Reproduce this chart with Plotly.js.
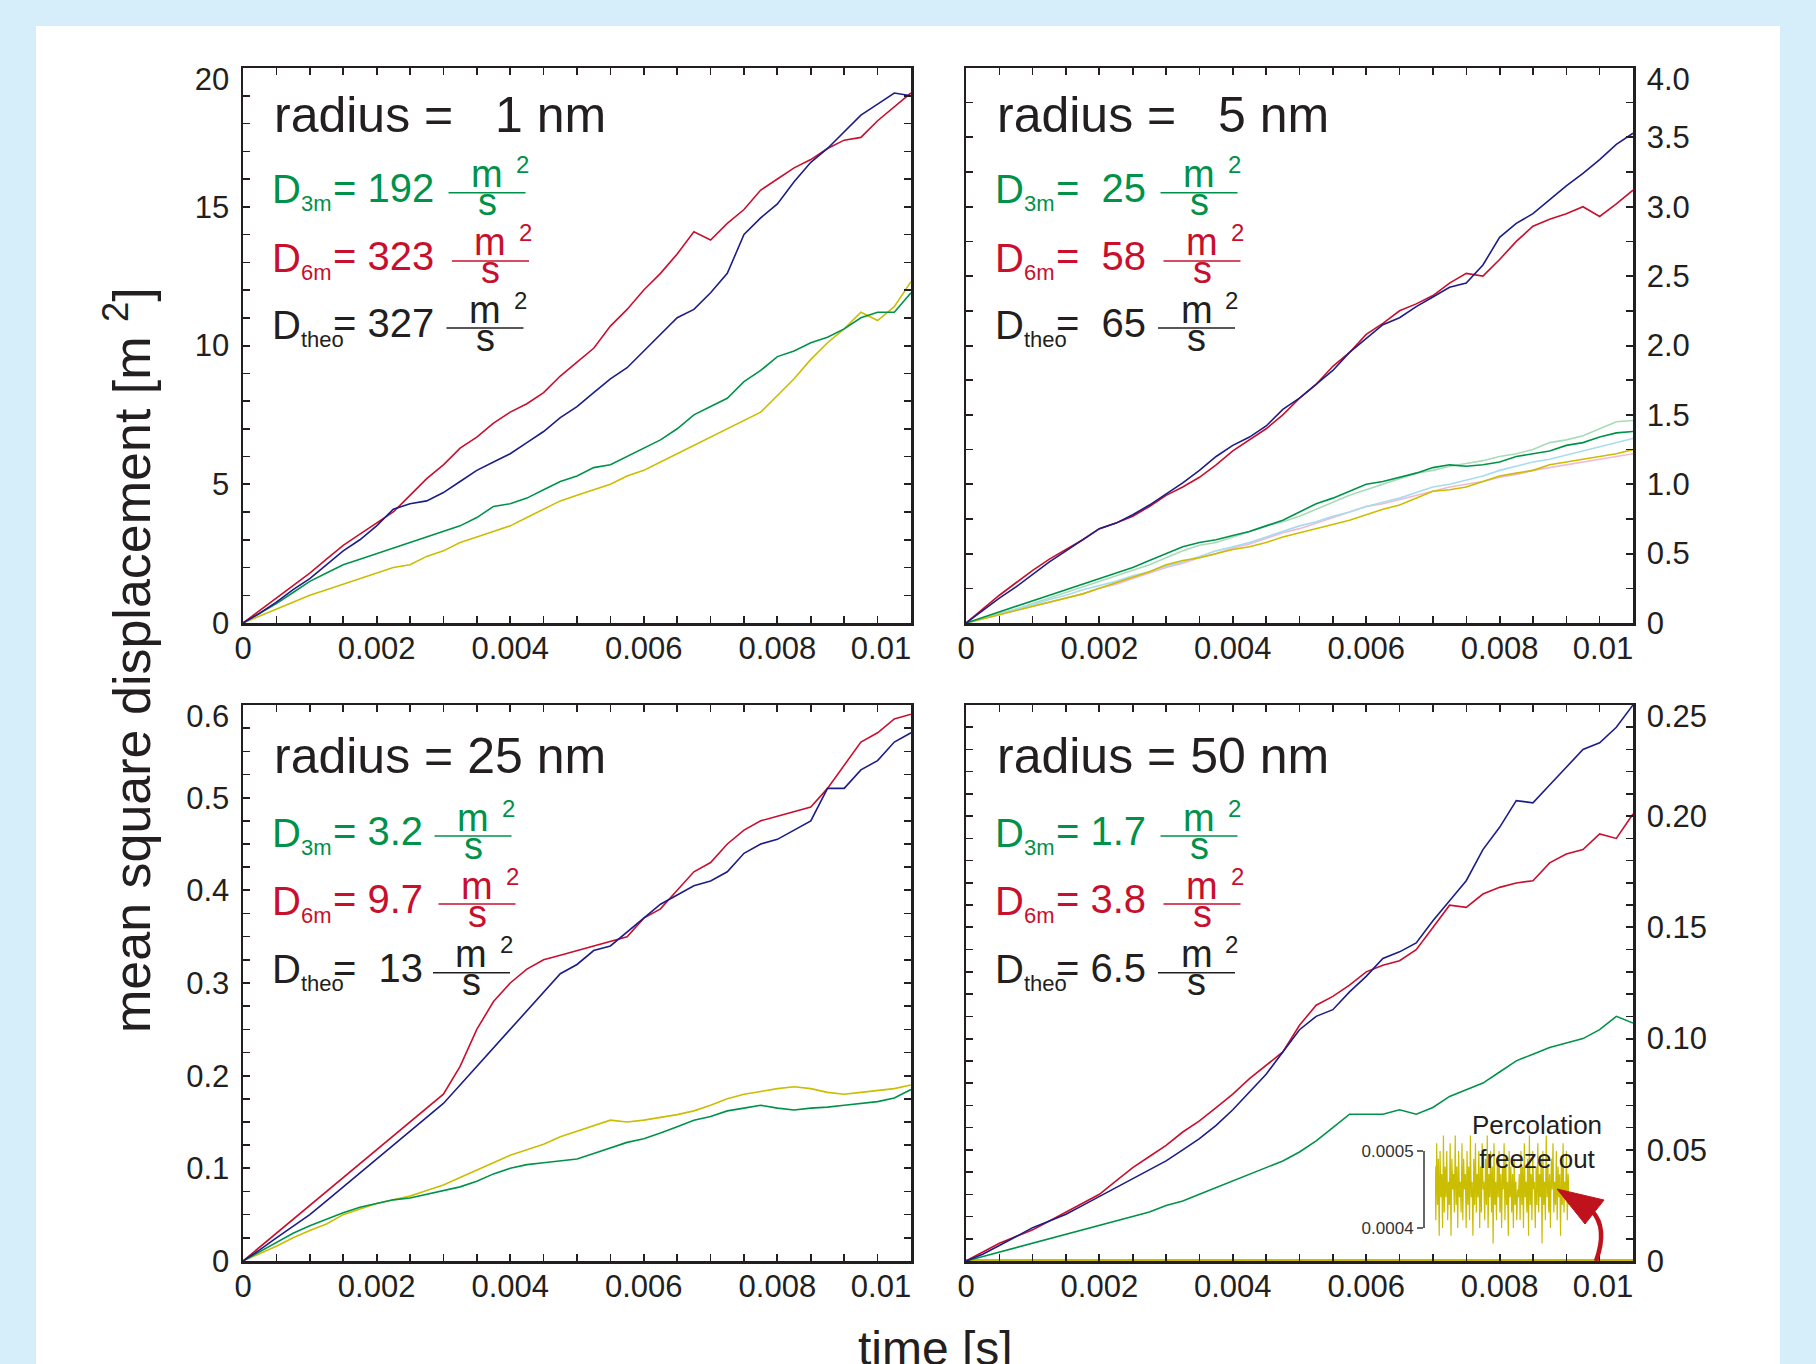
<!DOCTYPE html>
<html><head><meta charset="utf-8">
<script src="https://cdn.plot.ly/plotly-3.0.1.min.js"></script>
<style>html,body{margin:0;padding:0;background:#d6eef9;overflow:hidden}#chart{width:1816px;height:1364px}</style>
</head><body><div id="chart"></div>
<script>
// ---------------- DATA ----------------
const time = [0, 0.00025, 0.0005, 0.00075, 0.001, 0.00125, 0.0015, 0.00175, 0.002, 0.00225,
  0.0025, 0.00275, 0.003, 0.00325, 0.0035, 0.00375, 0.004, 0.00425, 0.0045, 0.00475,
  0.005, 0.00525, 0.0055, 0.00575, 0.006, 0.00625, 0.0065, 0.00675, 0.007, 0.00725,
  0.0075, 0.00775, 0.008, 0.00825, 0.0085, 0.00875, 0.009, 0.00925, 0.0095, 0.00975, 0.01];

// radius = 1 nm
const r1_red = [0, 0.45, 0.9, 1.35, 1.8, 2.3, 2.8, 3.2, 3.6, 4.0, 4.6, 5.2, 5.7, 6.3, 6.7, 7.2, 7.6, 7.9, 8.3, 8.9,
  9.4, 9.9, 10.7, 11.3, 12.0, 12.6, 13.3, 14.1, 13.8, 14.4, 14.9, 15.6, 16.0, 16.4, 16.7, 17.1, 17.4, 17.5, 18.1, 18.6, 19.1];
const r1_blue = [0, 0.35, 0.75, 1.2, 1.6, 2.1, 2.6, 3.0, 3.5, 4.1, 4.3, 4.4, 4.7, 5.1, 5.5, 5.8, 6.1, 6.5, 6.9, 7.4,
  7.8, 8.3, 8.8, 9.2, 9.8, 10.4, 11.0, 11.3, 11.9, 12.6, 14.0, 14.6, 15.1, 15.9, 16.6, 17.1, 17.7, 18.3, 18.7, 19.1, 19.0];
const r1_green = [0, 0.35, 0.7, 1.1, 1.5, 1.8, 2.1, 2.3, 2.5, 2.7, 2.9, 3.1, 3.3, 3.5, 3.8, 4.2, 4.3, 4.5, 4.8, 5.1,
  5.3, 5.6, 5.7, 6.0, 6.3, 6.6, 7.0, 7.5, 7.8, 8.1, 8.7, 9.1, 9.6, 9.8, 10.1, 10.3, 10.6, 11.0, 11.2, 11.2, 11.9];
const r1_yellow = [0, 0.25, 0.5, 0.75, 1.0, 1.2, 1.4, 1.6, 1.8, 2.0, 2.1, 2.4, 2.6, 2.9, 3.1, 3.3, 3.5, 3.8, 4.1, 4.4,
  4.6, 4.8, 5.0, 5.3, 5.5, 5.8, 6.1, 6.4, 6.7, 7.0, 7.3, 7.6, 8.2, 8.8, 9.5, 10.1, 10.6, 11.2, 10.9, 11.4, 12.3];

// radius = 5 nm
const r5_red = [0, 0.1, 0.2, 0.29, 0.38, 0.46, 0.53, 0.6, 0.68, 0.72, 0.77, 0.84, 0.92, 0.98, 1.05, 1.14, 1.24, 1.32, 1.4, 1.5,
  1.62, 1.72, 1.85, 1.95, 2.08, 2.16, 2.25, 2.3, 2.36, 2.45, 2.52, 2.5, 2.62, 2.75, 2.86, 2.91, 2.95, 3.0, 2.93, 3.02, 3.12];
const r5_blue = [0, 0.09, 0.18, 0.26, 0.35, 0.44, 0.52, 0.6, 0.68, 0.72, 0.78, 0.85, 0.93, 1.01, 1.1, 1.2, 1.28, 1.34, 1.42, 1.54,
  1.62, 1.72, 1.82, 1.95, 2.05, 2.15, 2.2, 2.28, 2.35, 2.42, 2.45, 2.58, 2.78, 2.88, 2.95, 3.05, 3.15, 3.24, 3.34, 3.45, 3.53];
const r5_green = [0, 0.04, 0.08, 0.12, 0.16, 0.2, 0.24, 0.28, 0.32, 0.36, 0.4, 0.45, 0.5, 0.55, 0.58, 0.6, 0.63, 0.66, 0.7, 0.74,
  0.8, 0.86, 0.9, 0.95, 1.0, 1.02, 1.05, 1.08, 1.12, 1.14, 1.13, 1.14, 1.16, 1.2, 1.22, 1.24, 1.28, 1.3, 1.34, 1.37, 1.38];
const r5_lightgreen = [0, 0.03, 0.07, 0.1, 0.14, 0.18, 0.22, 0.26, 0.3, 0.34, 0.38, 0.42, 0.47, 0.52, 0.56, 0.58, 0.62, 0.66, 0.7, 0.73,
  0.77, 0.82, 0.87, 0.92, 0.96, 1.0, 1.04, 1.08, 1.1, 1.13, 1.15, 1.17, 1.2, 1.22, 1.25, 1.3, 1.32, 1.35, 1.4, 1.45, 1.46];
const r5_pink = [0, 0.03, 0.06, 0.09, 0.12, 0.15, 0.18, 0.21, 0.25, 0.28, 0.32, 0.36, 0.4, 0.43, 0.47, 0.5, 0.54, 0.57, 0.61, 0.65,
  0.68, 0.72, 0.76, 0.8, 0.84, 0.86, 0.89, 0.92, 0.95, 0.98, 1.0, 1.02, 1.05, 1.07, 1.1, 1.12, 1.14, 1.16, 1.18, 1.2, 1.22];
const r5_lightblue = [0, 0.03, 0.06, 0.1, 0.13, 0.17, 0.2, 0.24, 0.27, 0.3, 0.34, 0.37, 0.41, 0.44, 0.48, 0.52, 0.55, 0.58, 0.62, 0.66,
  0.7, 0.73, 0.77, 0.8, 0.84, 0.87, 0.9, 0.94, 0.98, 1.0, 1.03, 1.06, 1.1, 1.13, 1.16, 1.18, 1.21, 1.24, 1.27, 1.3, 1.33];
const r5_yellow = [0, 0.03, 0.06, 0.09, 0.12, 0.15, 0.18, 0.21, 0.25, 0.29, 0.33, 0.37, 0.42, 0.45, 0.47, 0.5, 0.53, 0.55, 0.58, 0.62,
  0.65, 0.68, 0.71, 0.74, 0.78, 0.82, 0.85, 0.9, 0.95, 0.96, 0.98, 1.02, 1.06, 1.08, 1.1, 1.14, 1.16, 1.18, 1.2, 1.22, 1.25];

// radius = 25 nm
const r25_red = [0, 0.015, 0.03, 0.045, 0.06, 0.075, 0.09, 0.105, 0.12, 0.135, 0.15, 0.165, 0.18, 0.21, 0.25, 0.28, 0.3, 0.315, 0.325, 0.33,
  0.335, 0.34, 0.345, 0.35, 0.37, 0.38, 0.4, 0.42, 0.43, 0.45, 0.465, 0.475, 0.48, 0.485, 0.49, 0.51, 0.535, 0.56, 0.57, 0.585, 0.59];
const r25_blue = [0, 0.012, 0.025, 0.038, 0.05, 0.065, 0.08, 0.095, 0.11, 0.125, 0.14, 0.155, 0.17, 0.19, 0.21, 0.23, 0.25, 0.27, 0.29, 0.31,
  0.32, 0.335, 0.34, 0.355, 0.37, 0.385, 0.395, 0.405, 0.41, 0.42, 0.44, 0.45, 0.455, 0.465, 0.475, 0.51, 0.51, 0.53, 0.54, 0.56, 0.57];
const r25_green = [0, 0.01, 0.02, 0.03, 0.038, 0.045, 0.052, 0.058, 0.062, 0.066, 0.068, 0.072, 0.076, 0.08, 0.086, 0.094, 0.1, 0.104, 0.106, 0.108,
  0.11, 0.116, 0.122, 0.128, 0.132, 0.138, 0.145, 0.152, 0.156, 0.162, 0.165, 0.168, 0.165, 0.163, 0.165, 0.166, 0.168, 0.17, 0.172, 0.176, 0.185];
const r25_yellow = [0, 0.008, 0.016, 0.025, 0.033, 0.04, 0.05, 0.056, 0.062, 0.066, 0.07, 0.076, 0.082, 0.09, 0.098, 0.106, 0.114, 0.12, 0.126, 0.134,
  0.14, 0.146, 0.152, 0.15, 0.152, 0.155, 0.158, 0.162, 0.168, 0.175, 0.18, 0.183, 0.186, 0.188, 0.186, 0.182, 0.18, 0.182, 0.184, 0.186, 0.19];

// radius = 50 nm
const r50_red = [0, 0.004, 0.008, 0.011, 0.014, 0.018, 0.022, 0.026, 0.03, 0.036, 0.042, 0.047, 0.052, 0.058, 0.063, 0.069, 0.075, 0.082, 0.088, 0.094,
  0.106, 0.115, 0.119, 0.124, 0.13, 0.133, 0.135, 0.14, 0.15, 0.16, 0.159, 0.165, 0.168, 0.17, 0.171, 0.179, 0.183, 0.185, 0.192, 0.19, 0.201];
const r50_blue = [0, 0.003, 0.007, 0.011, 0.015, 0.018, 0.021, 0.025, 0.029, 0.033, 0.037, 0.041, 0.045, 0.05, 0.055, 0.061, 0.068, 0.076, 0.084, 0.094,
  0.104, 0.11, 0.113, 0.121, 0.128, 0.136, 0.139, 0.143, 0.153, 0.162, 0.171, 0.185, 0.195, 0.207, 0.206, 0.214, 0.222, 0.23, 0.233, 0.24, 0.25];
const r50_green = [0, 0.002, 0.004, 0.006, 0.008, 0.01, 0.012, 0.014, 0.016, 0.018, 0.02, 0.022, 0.025, 0.027, 0.03, 0.033, 0.036, 0.039, 0.042, 0.045,
  0.049, 0.054, 0.06, 0.066, 0.066, 0.066, 0.068, 0.066, 0.069, 0.074, 0.077, 0.08, 0.085, 0.09, 0.093, 0.096, 0.098, 0.1, 0.104, 0.11, 0.107];
const r50_yellow = [0.00045, 0.00043, 0.00047, 0.00044, 0.00046, 0.00042, 0.00048, 0.00045, 0.00044, 0.00046,
  0.00043, 0.00047, 0.00045, 0.00044, 0.00046, 0.00042, 0.00048, 0.00045, 0.00043, 0.00047,
  0.00044, 0.00046, 0.00045, 0.00043, 0.00047, 0.00044, 0.00046, 0.00042, 0.00048, 0.00045,
  0.00044, 0.00046, 0.00043, 0.00047, 0.00045, 0.00044, 0.00046, 0.00042, 0.00048, 0.00045, 0.00044];
// inset: percolation freeze-out (yellow, zoomed in)
const inset_yellow = [0.00048, 0.00041, 0.00051, 0.00043, 0.00049, 0.00039, 0.00050, 0.00044, 0.00047, 0.00040,
  0.00052, 0.00042, 0.00048, 0.00044, 0.00050, 0.00041, 0.00046, 0.00043, 0.00051, 0.00039,
  0.00049, 0.00045, 0.00047, 0.00042, 0.00052, 0.00043, 0.00048, 0.00040, 0.00050, 0.00044,
  0.00046, 0.00042, 0.00051, 0.00041, 0.00049, 0.00045, 0.00047, 0.00040, 0.00050, 0.00043,
  0.00048, 0.00041, 0.00052, 0.00044, 0.00046, 0.00039, 0.00049, 0.00043, 0.00051, 0.00042,
  0.00047, 0.00044, 0.00050, 0.00040, 0.00048, 0.00042, 0.00051, 0.00045, 0.00046, 0.00041,
  0.00049, 0.00043, 0.00052, 0.00040, 0.00047, 0.00044, 0.00050, 0.00042, 0.00048, 0.00038,
  0.00051, 0.00043, 0.00046, 0.00041, 0.00049, 0.00044, 0.00050, 0.00042, 0.00047, 0.00040,
  0.00048, 0.00045, 0.00051, 0.00041, 0.00049, 0.00043, 0.00046, 0.00039, 0.00050, 0.00044,
  0.00048, 0.00042, 0.00047, 0.00040, 0.00049, 0.00043, 0.00046, 0.00041, 0.00045, 0.00044,
  0.00047, 0.00041, 0.00050, 0.00043, 0.00048, 0.00040, 0.00051, 0.00044, 0.00046, 0.00042,
  0.00049, 0.00039, 0.00052, 0.00043, 0.00047, 0.00041, 0.00050, 0.00045, 0.00046, 0.00040,
  0.00048, 0.00043, 0.00051, 0.00042, 0.00047, 0.00044, 0.00049, 0.00038, 0.00050, 0.00043,
  0.00046, 0.00041, 0.00052, 0.00044, 0.00048, 0.00042, 0.00047, 0.00040, 0.00049, 0.00045,
  0.00051, 0.00042, 0.00046, 0.00043, 0.00050, 0.00041, 0.00048, 0.00044, 0.00047, 0.00039,
  0.00049, 0.00043, 0.00051, 0.00042, 0.00046, 0.00044, 0.00050, 0.00041, 0.00047, 0.00043];

// tick labels
const xTickVals = [0, 0.002, 0.004, 0.006, 0.008], xTickText = ['0', '0.002', '0.004', '0.006', '0.008'], xEnd = [0.01, '0.01'];
const y1TickVals = [0, 5, 10, 15], y1TickText = ['0', '5', '10', '15'], y1Top = [20, '20'];
const y2TickVals = [0, 0.5, 1, 1.5, 2, 2.5, 3, 3.5], y2TickText = ['0', '0.5', '1.0', '1.5', '2.0', '2.5', '3.0', '3.5'], y2Top = [4, '4.0'];
const y3TickVals = [0, 0.1, 0.2, 0.3, 0.4, 0.5], y3TickText = ['0', '0.1', '0.2', '0.3', '0.4', '0.5'], y3Top = [0.6, '0.6'];
const y4TickVals = [0, 0.05, 0.1, 0.15, 0.2], y4TickText = ['0', '0.05', '0.10', '0.15', '0.20'], y4Top = [0.25, '0.25'];
const insetTickVals = [0.0004, 0.0005], insetTickText = ['0.0004', '0.0005'];

// panel texts
const panelTitles = ['radius =\u00A0\u00A0\u00A01 nm', 'radius =\u00A0\u00A0\u00A05 nm', 'radius = 25 nm', 'radius = 50 nm'];
const rowSubs = ['3m', '6m', 'theo'];
const dValues = [
  ['= 192', '= 323', '= 327'],
  ['=\u00A0\u00A025', '=\u00A0\u00A058', '=\u00A0\u00A065'],
  ['= 3.2', '= 9.7', '=\u00A0\u00A013'],
  ['= 1.7', '= 3.8', '= 6.5']
];

// ---------------- STYLE / LAYOUT ----------------
const W = 1816, H = 1364;
const FONT = 'Liberation Sans, Arial, Helvetica, sans-serif';
const INK = '#231f20';
const GREEN = '#00924a', RED = '#c8102e', BLUE = '#1d1d88', YELLOW = '#cbbd00';
const LGREEN = '#a8dbb8', PINK = '#f5b8d1', LBLUE = '#a6dcf0';
const rowColors = [GREEN, RED, INK];
const TICKSIZE = 31;

const PX = x => x / W, PY = y => 1 - y / H;
const frames = [
  {L: 243, R: 911, T: 68, B: 623},
  {L: 966, R: 1633, T: 68, B: 623},
  {L: 243, R: 911, T: 705, B: 1261},
  {L: 966, R: 1633, T: 705, B: 1261}
];

const common = {
  showline: true, linecolor: INK, linewidth: 2.5,
  ticks: 'inside', ticklen: 7, tickwidth: 2, tickcolor: INK,
  showgrid: false, zeroline: false, tickmode: 'array',
  tickfont: {family: FONT, size: TICKSIZE, color: INK}, autorange: false
};
const minorBase = {ticks: 'inside', ticklen: 4, tickwidth: 1.5, tickcolor: INK, showgrid: false, tick0: 0};

const layout = {
  width: W, height: H, margin: {l: 0, r: 0, t: 0, b: 0},
  paper_bgcolor: '#d6eef9', plot_bgcolor: 'rgba(0,0,0,0)', showlegend: false,
  font: {family: FONT, color: INK},
  annotations: [], shapes: []
};

const yCfg = [
  {range: [0, 20], vals: y1TickVals, text: y1TickText, top: y1Top, minor: 1, side: 'left'},
  {range: [0, 4], vals: y2TickVals, text: y2TickText, top: y2Top, minor: 0.25, side: 'right'},
  {range: [0, 0.6], vals: y3TickVals, text: y3TickText, top: y3Top, minor: 0.025, side: 'left'},
  {range: [0, 0.25], vals: y4TickVals, text: y4TickText, top: y4Top, minor: 0.01, side: 'right'}
];

const traces = [];
const XSTAND = -4, YSTAND = 5;
frames.forEach((f, i) => {
  const n = i + 1;
  const xk = n === 1 ? 'xaxis' : 'xaxis' + n;
  const yk = n === 1 ? 'yaxis' : 'yaxis' + n;
  const xr = n === 1 ? 'x' : 'x' + n, yr = n === 1 ? 'y' : 'y' + n;
  const c = yCfg[i];
  layout[xk] = Object.assign({}, common, {
    domain: [PX(f.L), PX(f.R)], range: [0, 0.01], anchor: yr, mirror: 'allticks',
    tickvals: xTickVals, ticktext: xTickText, ticklabelstandoff: XSTAND,
    minor: Object.assign({}, minorBase, {dtick: 0.0005})
  });
  layout[yk] = Object.assign({}, common, {
    domain: [PY(f.B), PY(f.T)], range: c.range, anchor: xr, side: c.side, mirror: 'allticks',
    tickvals: c.vals, ticktext: c.text, ticklabelstandoff: YSTAND,
    minor: Object.assign({}, minorBase, {dtick: c.minor})
  });
  // overlay axes carrying the end labels, nudged inside the frame like the original
  const oy = 'yaxis' + (n + 4), oyr = 'y' + (n + 4);
  layout[oy] = Object.assign({}, common, {
    overlaying: yr, anchor: xr, side: c.side, range: c.range,
    tickvals: [c.top[0]], ticktext: [c.top[1]], ticklabelshift: 11, ticklabelstandoff: YSTAND
  });
  traces.push({x: [null], y: [null], xaxis: xr, yaxis: oyr, mode: 'lines', hoverinfo: 'skip', showlegend: false});
  const ox = 'xaxis' + (n + 5), oxr = 'x' + (n + 5);
  layout[ox] = Object.assign({}, common, {
    overlaying: xr, anchor: yr, side: 'bottom', range: [0, 0.01],
    tickvals: [xEnd[0]], ticktext: [xEnd[1]], ticklabelshift: -30, ticklabelstandoff: XSTAND
  });
  traces.push({x: [null], y: [null], xaxis: oxr, yaxis: yr, mode: 'lines', hoverinfo: 'skip', showlegend: false});
});

function line(y, n, color, w) {
  const xr = n === 1 ? 'x' : 'x' + n, yr = n === 1 ? 'y' : 'y' + n;
  return {x: time, y: y, xaxis: xr, yaxis: yr, mode: 'lines', line: {color: color, width: w || 1.6}, hoverinfo: 'skip'};
}
traces.push(
  line(r1_yellow, 1, YELLOW), line(r1_green, 1, GREEN), line(r1_red, 1, RED), line(r1_blue, 1, BLUE),
  line(r5_lightgreen, 2, LGREEN), line(r5_pink, 2, PINK), line(r5_lightblue, 2, LBLUE),
  line(r5_yellow, 2, YELLOW), line(r5_green, 2, GREEN), line(r5_red, 2, RED), line(r5_blue, 2, BLUE),
  line(r25_yellow, 3, YELLOW), line(r25_green, 3, GREEN), line(r25_red, 3, RED), line(r25_blue, 3, BLUE),
  line(r50_yellow, 4, YELLOW, 2), line(r50_green, 4, GREEN), line(r50_red, 4, RED), line(r50_blue, 4, BLUE)
);

// inset axes
const insetYLo = 0.0004 - 34 / 770000, insetYHi = 0.0005 + 19 / 770000;
layout.xaxis5 = {domain: [PX(1435), PX(1569)], range: [0, inset_yellow.length - 1], anchor: 'y10', visible: false, autorange: false};
layout.yaxis10 = {domain: [PY(1262), PY(1132)], range: [insetYLo, insetYHi], anchor: 'x5', visible: false, autorange: false};
layout.yaxis9 = {
  domain: [PY(1228), PY(1151)], range: [0.0004, 0.0005], anchor: 'free', position: PX(1423), side: 'left',
  autorange: false, showline: true, linecolor: '#666', linewidth: 1.5, ticks: 'outside', ticklen: 6, tickwidth: 1.5,
  tickcolor: '#666', tickmode: 'array', tickvals: insetTickVals, ticktext: insetTickText,
  tickfont: {family: FONT, size: 17, color: '#333'}, showgrid: false, zeroline: false
};
traces.push({x: [null], y: [null], xaxis: 'x5', yaxis: 'y9', mode: 'lines', hoverinfo: 'skip', showlegend: false});
traces.push({y: inset_yellow, xaxis: 'x5', yaxis: 'y10', mode: 'lines', line: {color: YELLOW, width: 1.2}, hoverinfo: 'skip'});

// white sheet
layout.shapes.push({type: 'rect', xref: 'paper', yref: 'paper', x0: PX(36), x1: PX(1780), y0: 0, y1: PY(26),
  fillcolor: '#ffffff', line: {width: 0}, layer: 'below'});

// panel annotations
const titleBase = [64, 64, 69, 69];
const rowBase = [[133.7, 202, 269], [133.7, 202, 269], [140, 208, 276.7], [140, 208, 276.7]];
const fracCx = [[244, 247.5, 242], [233, 236, 230.5], [230, 234, 228.5], [233, 236, 230.5]];
function ann(text, x, y, size, color, xanchor, extra) {
  return Object.assign({text: text, x: PX(x), y: PY(y), xref: 'paper', yref: 'paper', showarrow: false,
    xanchor: xanchor || 'center', yanchor: 'middle', font: {family: FONT, size: size, color: color}}, extra || {});
}
frames.forEach((f, i) => {
  layout.annotations.push(ann(panelTitles[i], f.L + 29, f.T + titleBase[i] - 17.5, 50, INK, 'left'));
  for (let r = 0; r < 3; r++) {
    const base = f.T + rowBase[i][r];
    const col = rowColors[r];
    layout.annotations.push(ann('D<sub><span style="font-size:22px">' + rowSubs[r] + '</span></sub>',
      f.L + 27, base - 10, 40, col, 'left'));
    layout.annotations.push(ann(dValues[i][r], f.L + 88, base - 14, 40, col, 'left'));
    const cx = f.L + fracCx[i][r];
    layout.annotations.push(ann('m', cx, base - 14 - 13.5, 38, col));
    layout.annotations.push(ann('s', cx, base + 14 - 13.5, 38, col));
    layout.annotations.push(ann('2', cx + 35, base - 29 - 8, 24, col));
    layout.shapes.push({type: 'line', xref: 'paper', yref: 'paper', x0: PX(cx - 38.5), x1: PX(cx + 38.5),
      y0: PY(base - 9), y1: PY(base - 9), line: {color: col, width: 1.5}});
  }
});

// axis titles
layout.annotations.push(ann('mean square displacement [m\u00A0<sup>2</sup>]', 128, 660, 52, INK, 'center', {textangle: -90}));
layout.annotations.push(ann('time [s]', 935, 1348, 48, INK, 'center'));

// inset label and arrow
layout.annotations.push(ann('Percolation<br>freeze out', 1537, 1142, 26, INK, 'center'));
layout.shapes.push({type: 'path', xref: 'paper', yref: 'paper',
  path: 'M ' + PX(1596) + ',' + PY(1261) + ' Q ' + PX(1608) + ',' + PY(1228) + ' ' + PX(1592) + ',' + PY(1211),
  line: {color: '#c0121d', width: 4.5}});
layout.shapes.push({type: 'path', xref: 'paper', yref: 'paper',
  path: 'M ' + PX(1557) + ',' + PY(1189) + ' L ' + PX(1604) + ',' + PY(1200) + ' L ' + PX(1585) + ',' + PY(1224) + ' Z',
  fillcolor: '#c0121d', line: {color: '#c0121d', width: 1}});

Plotly.newPlot('chart', traces, layout, {staticPlot: true, displayModeBar: false});
</script>
</body></html>
